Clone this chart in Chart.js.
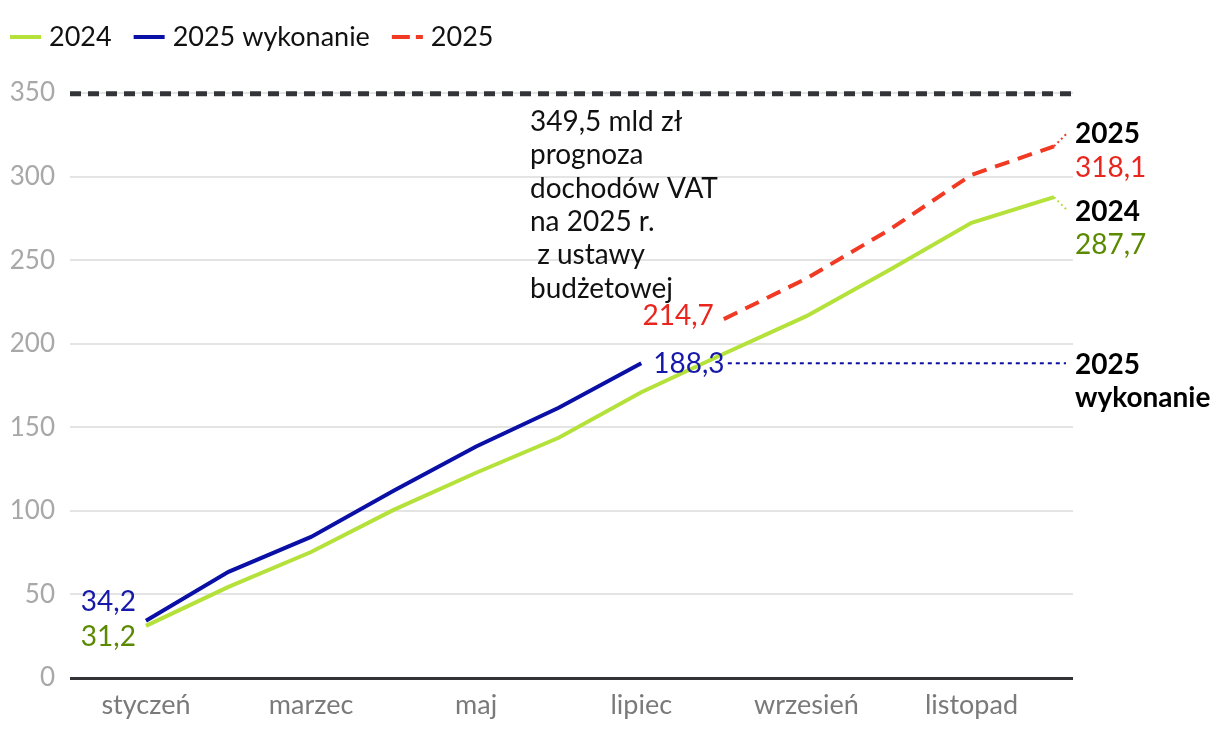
<!DOCTYPE html>
<html lang="pl">
<head>
<meta charset="utf-8">
<title>Dochody VAT</title>
<script src="https://cdn.jsdelivr.net/npm/chart.js@4.4.1/dist/chart.umd.min.js"></script>
<style>
  html, body { margin: 0; padding: 0; background: #fff; }
  #wrap { position: relative; width: 1220px; height: 734px; }
</style>
</head>
<body>
<div id="wrap"><canvas id="c"></canvas></div>
<script>
// months (x axis), only every second one gets a label
const months = ['styczeń', 'luty', 'marzec', 'kwiecień', 'maj', 'czerwiec',
  'lipiec', 'sierpień', 'wrzesień', 'październik', 'listopad', 'grudzień'];
const shownMonths = [0, 2, 4, 6, 8, 10];
const yTicks = [0, 50, 100, 150, 200, 250, 300, 350];

// cumulative VAT income, mld zł
const vat2024 = [31.2, 54.5, 75.4, 100.6, 122.8, 143.7, 171.0, 194.0, 216.5, 244.0, 272.3, 287.7];
const vat2025done = [34.2, 63.5, 84.4, 112.0, 138.5, 161.7, 188.3];
const vat2025plan = [null, null, null, null, null, null, null, 214.7, 239.0, 268.0, 301.0, 318.1];
const budgetTarget = 349.5;

const noteLines = ['349,5 mld zł', 'prognoza', 'dochodów VAT', 'na 2025 r.', ' z ustawy', 'budżetowej'];

const C = {
  green: '#b4e13a', greenTxt: '#5b8a00',
  blue: '#0a10a6', blueTxt: '#1518a8',
  red: '#f03a24', redTxt: '#e8261e',
  dark: '#333438', grid: '#e4e4e4'
};
const FONT = 'Lato, "Noto Sans", sans-serif';
const FS = 28;

const pts = arr => arr.map((v, i) => ({ x: i, y: v })).filter(p => p.y !== null);

const decor = {
  id: 'decor',
  beforeDatasetsDraw(chart) {
    const { ctx, chartArea: a, scales: { y } } = chart;
    // budget target line
    ctx.save();
    ctx.strokeStyle = C.dark;
    ctx.lineWidth = 5;
    ctx.setLineDash([11, 7]);
    ctx.beginPath();
    ctx.moveTo(a.left, y.getPixelForValue(budgetTarget));
    ctx.lineTo(a.right, y.getPixelForValue(budgetTarget));
    ctx.stroke();
    ctx.restore();
  },
  afterDatasetsDraw(chart) {
    const { ctx, scales: { x, y } } = chart;
    const last = vat2025done.length - 1;
    const X = i => x.getPixelForValue(i);
    const Y = v => y.getPixelForValue(v);
    const txt = (s, px, py, color, align, bold, size) => {
      ctx.font = (bold ? 'bold ' : '') + (size || FS) + 'px ' + FONT;
      ctx.fillStyle = color;
      ctx.textAlign = align;
      ctx.textBaseline = 'middle';
      ctx.fillText(s, px, py);
    };
    const dotted = (x1, y1, x2, y2, color, w, dash) => {
      ctx.save();
      ctx.strokeStyle = color;
      ctx.lineWidth = w;
      ctx.setLineDash(dash);
      ctx.beginPath();
      ctx.moveTo(x1, y1);
      ctx.lineTo(x2, y2);
      ctx.stroke();
      ctx.restore();
    };
    ctx.save();

    // start values
    txt('34,2', X(0) - 10, Y(vat2025done[0]) - 19, C.blueTxt, 'right');
    txt('31,2', X(0) - 10, Y(vat2024[0]) + 11, C.greenTxt, 'right');

    // end of 2025 actuals + leader to the right
    const yDone = Y(vat2025done[last]);
    txt('188,3', X(last) + 12, yDone + 1, C.blueTxt, 'left');
    dotted(X(last + 1) + 4, yDone, X(11) + 12, yDone, C.blue, 2, [4, 4]);

    // start of forecast
    txt('214,7', X(7) - 10, Y(vat2025plan[7]) - 3, C.redTxt, 'right');

    // right-hand labels
    const rx = X(11) + 21;
    const y25 = Y(vat2025plan[11]);
    const y24 = Y(vat2024[11]);
    dotted(X(11), y25, X(11) + 14, y25 - 14, C.red, 2, [2, 3]);
    dotted(X(11), y24, X(11) + 14, y24 + 14, C.green, 2, [2, 3]);
    txt('2025', rx, y25 - 12, '#000', 'left', true);
    txt('318,1', rx, y25 + 22, C.redTxt, 'left');
    txt('2024', rx, y24 + 15, '#000', 'left', true);
    txt('287,7', rx, y24 + 48, C.greenTxt, 'left');
    txt('2025', rx, yDone + 2, '#000', 'left', true);
    txt('wykonanie', rx, yDone + 35, '#000', 'left', true);

    // budget note
    noteLines.forEach((s, i) => txt(s, 530, Y(budgetTarget) + 28 + i * 33.4, '#111', 'left'));

    // legend
    const items = [
      { label: '2024', color: C.green, dash: [] },
      { label: '2025 wykonanie', color: C.blue, dash: [] },
      { label: '2025', color: C.red, dash: [18, 6] }
    ];
    let lx = 10;
    const ly = 37;
    items.forEach(it => {
      dotted(lx, ly, lx + 31, ly, it.color, 4, it.dash);
      txt(it.label, lx + 39, ly, '#111', 'left', false, 27);
      lx += 39 + ctx.measureText(it.label).width + 22;
    });
    ctx.restore();
  }
};

new Chart(document.getElementById('c'), {
  type: 'line',
  data: {
    datasets: [
      { label: '2024', data: pts(vat2024), borderColor: C.green, borderWidth: 4 },
      { label: '2025 wykonanie', data: pts(vat2025done), borderColor: C.blue, borderWidth: 4 },
      { label: '2025', data: pts(vat2025plan), borderColor: C.red, borderWidth: 4, borderDash: [15, 9] }
    ]
  },
  options: {
    responsive: true,
    maintainAspectRatio: false,
    animation: false,
    layout: { padding: { top: 93, right: 147, left: 0, bottom: 0 } },
    elements: { point: { radius: 0 }, line: { tension: 0 } },
    plugins: { legend: { display: false }, tooltip: { enabled: false } },
    scales: {
      x: {
        type: 'linear',
        min: -0.92,
        max: 11.23,
        afterBuildTicks: s => { s.ticks = shownMonths.map(v => ({ value: v })); },
        afterFit: s => { s.height = 56; },
        grid: { display: false },
        border: { display: false },
        ticks: {
          color: '#7a7a7a',
          padding: 3,
          maxRotation: 0,
          autoSkip: false,
          font: { size: 27, family: FONT },
          callback: v => months[v]
        }
      },
      y: {
        min: 0,
        max: 350,
        afterBuildTicks: s => { s.ticks = yTicks.map(v => ({ value: v })); },
        afterFit: s => { s.width = 70; },
        border: { display: false },
        grid: {
          drawTicks: false,
          color: c => c.tick.value === 0 ? C.dark : C.grid,
          lineWidth: c => c.tick.value === 0 ? 3 : 2
        },
        ticks: {
          color: '#a8a8a8',
          padding: 15,
          font: { size: 26, family: FONT }
        }
      }
    }
  },
  plugins: [decor]
});
</script>
</body>
</html>
